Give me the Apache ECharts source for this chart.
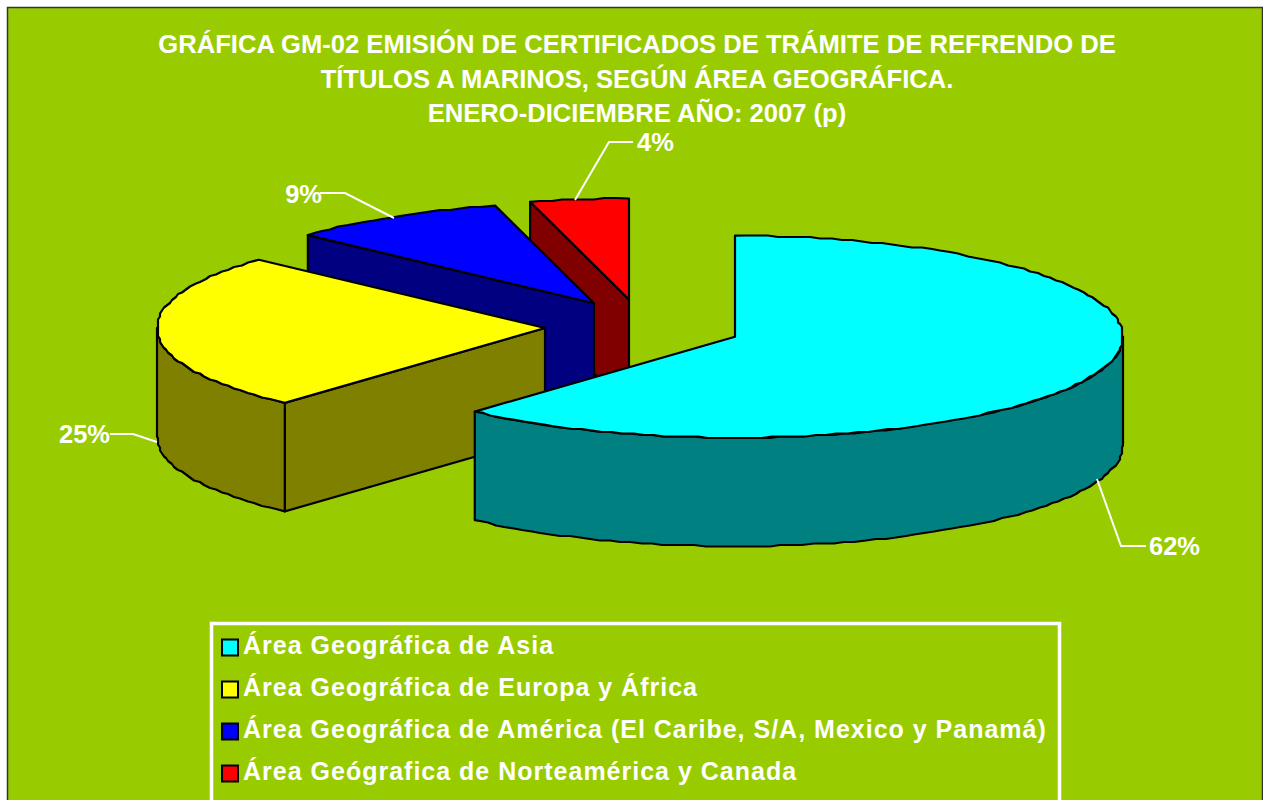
<!DOCTYPE html>
<html>
<head>
<meta charset="utf-8">
<style>
html,body{margin:0;padding:0;background:#fff;}
#chart{width:1263px;height:800px;}
/* Legend text in the reference is letter-spaced */
#chart svg text[style*=" 25px"]{letter-spacing:1px;}
</style>
<script src="https://cdn.jsdelivr.net/npm/echarts@6/dist/echarts.min.js"></script>
</head>
<body>
<div id="chart"></div>
<script>
var titleText = 'GRÁFICA GM-02 EMISIÓN DE CERTIFICADOS DE TRÁMITE DE REFRENDO DE\nTÍTULOS A MARINOS, SEGÚN ÁREA GEOGRÁFICA.\nENERO-DICIEMBRE AÑO: 2007 (p)';
var categories = [
  'Área Geográfica de Asia',
  'Área Geográfica de Europa y África',
  'Área Geográfica de América (El Caribe, S/A, Mexico y Panamá)',
  'Área Geógrafica de Norteamérica y Canada'
];
var values = [61.7, 25.1, 9.1, 4.1];
var topColors = ['#00FFFF', '#FFFF00', '#0000FF', '#FF0000'];
var wallColors = ['#008080', '#808000', '#000080', '#800000'];

// Projection of the 3-D pie, in the pixel units of the hidden axes
var radiusX = 388, radiusY = 101, depth = 108.5;
var sliceCenters = [[735, 336.7], [545, 328], [594, 303.3], [629, 299.5]];
var leaderLines = [
  [[1097, 479], [1121, 546], [1146, 546]],
  [[157, 442], [133, 434], [110, 434]],
  [[394, 218], [345, 193], [320, 193]],
  [[575, 200], [609, 142], [633, 142]]
];
var labelAnchors = [[1149, 546, 'left'], [110, 434, 'right'], [322, 194, 'right'], [637, 142, 'left']];
// Legend swatch sits a little below the text's centre: a zero-length segment stretches the icon's box upward
var legendIcon = 'path://M8 0L8 0M0 6L16 6L16 22L0 22Z';

var total = values.reduce(function (a, b) { return a + b; }, 0);
function sweep(i) {
  var s = 0;
  for (var k = 0; k < i; k++) s += values[k];
  return [s / total * 2 * Math.PI, (s + values[i]) / total * 2 * Math.PI];
}
function onRim(c, t, drop) {
  return [c[0] + radiusX * Math.sin(t), c[1] - radiusY * Math.cos(t) + drop];
}
// The original's rim is a coarse, slightly wavy polyline
function rimPoints(c, a, b, drop) {
  var pts = [onRim(c, a, drop)];
  var step = 1.6 * Math.PI / 180;
  for (var t = a + step; t < b - step / 2; t += step) {
    var p = onRim(c, t, 0);
    pts.push([Math.round(p[0] / 2) * 2, Math.round(p[1] / 1.5) * 1.5 + drop]);
  }
  pts.push(onRim(c, b, drop));
  return pts;
}

function makeRender(i) {
  return function (params, api) {
    var c = sliceCenters[i], ang = sweep(i), a = ang[0], b = ang[1];
    var toPx = function (p) { return api.coord(p); };
    var children = [];
    var face = function (pts, fill) {
      children.push({
        type: 'polygon',
        shape: { points: pts.map(toPx) },
        style: { fill: fill, stroke: '#000', lineWidth: 2.2, lineJoin: 'round' }
      });
    };
    // radial cut faces that look towards the viewer
    if (Math.sin(a) < -1e-6) {
      var p = onRim(c, a, 0);
      face([c, p, [p[0], p[1] + depth], [c[0], c[1] + depth]], wallColors[i]);
    }
    if (Math.sin(b) > 1e-6) {
      var q = onRim(c, b, 0);
      face([c, q, [q[0], q[1] + depth], [c[0], c[1] + depth]], wallColors[i]);
    }
    // outer wall (front half of the rim)
    var w0 = Math.max(a, Math.PI / 2), w1 = Math.min(b, 1.5 * Math.PI);
    if (w1 > w0) {
      face(rimPoints(c, w0, w1, 0).concat(rimPoints(c, w0, w1, depth).reverse()), wallColors[i]);
    }
    // top of the slice
    face([c].concat(rimPoints(c, a, b, 0)), topColors[i]);
    // leader line and percentage label
    children.push({
      type: 'polyline',
      shape: { points: leaderLines[i].map(toPx) },
      style: { fill: null, stroke: '#fff', lineWidth: 2 }
    });
    var la = toPx(labelAnchors[i]);
    children.push({
      type: 'text',
      style: {
        text: Math.round(api.value(1) / total * 100) + '%',
        x: la[0], y: la[1],
        fill: '#fff',
        font: 'bold 25.5px "Liberation Sans", Arial, sans-serif',
        align: labelAnchors[i][2],
        verticalAlign: 'middle'
      }
    });
    return { type: 'group', children: children };
  };
}

var chart = echarts.init(document.getElementById('chart'), null, { renderer: 'svg', width: 1263, height: 800 });
chart.setOption({
  animation: false,
  backgroundColor: '#fff',
  title: {
    text: titleText,
    left: 637,
    top: 27,
    textAlign: 'center',
    padding: 0,
    textStyle: {
      color: '#fff',
      fontFamily: '"Liberation Sans", Arial, sans-serif',
      fontWeight: 'bold',
      fontSize: 25.6,
      lineHeight: 34.5
    }
  },
  grid: { left: 0, right: 0, top: 0, bottom: 0 },
  xAxis: { type: 'value', min: 0, max: 1263, show: false },
  yAxis: { type: 'value', min: 0, max: 800, inverse: true, show: false },
  legend: {
    orient: 'vertical',
    left: 221,
    top: 631,
    padding: 0,
    itemWidth: 16,
    itemHeight: 22,
    itemGap: 15,
    selectedMode: false,
    icon: legendIcon,
    data: categories,
    itemStyle: { borderColor: '#000', borderWidth: 2 },
    textStyle: {
      color: '#fff',
      fontFamily: '"Liberation Sans", Arial, sans-serif',
      fontWeight: 'bold',
      fontSize: 25,
      lineHeight: 27
    }
  },
  graphic: [
    { type: 'rect', z: -10, silent: true,
      shape: { x: 7.5, y: 7.5, width: 1255, height: 810 },
      style: { fill: '#99CC00', stroke: '#333', lineWidth: 1.5 } },
    { type: 'rect', z: -9, silent: true,
      shape: { x: 211.5, y: 623.5, width: 848, height: 200 },
      style: { fill: 'none', stroke: '#fff', lineWidth: 3.5 } }
  ],
  series: categories.map(function (name, i) {
    return {
      type: 'custom',
      name: name,
      z: 5 - i,
      silent: true,
      clip: false,
      coordinateSystem: 'cartesian2d',
      itemStyle: { color: topColors[i] },
      renderItem: makeRender(i),
      encode: { x: 0, y: 1 },
      data: [[i, values[i]]]
    };
  })
});
</script>
</body>
</html>
